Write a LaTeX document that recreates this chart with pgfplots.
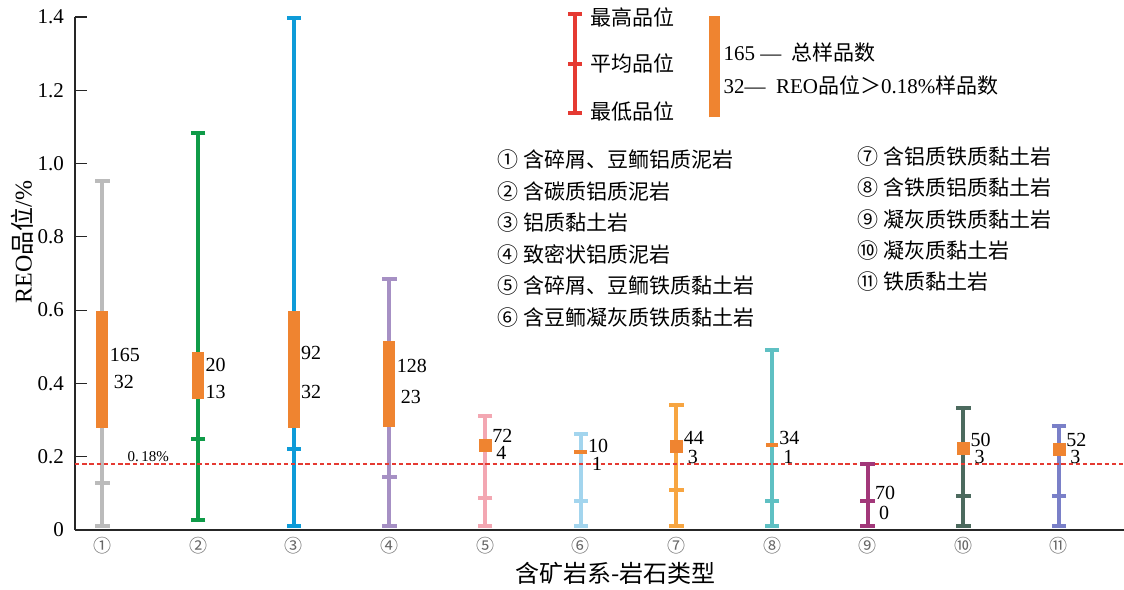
\documentclass[border=0pt]{standalone}
\usepackage{fontspec}
\setmainfont{Liberation Serif}
\newfontfamily\cjk{Noto Sans CJK SC}
\usepackage{pgfplots}
\pgfplotsset{compat=1.18}

% series colours
\definecolor{c1}{HTML}{BBBBBB}
\definecolor{c2}{HTML}{0F9B48}
\definecolor{c3}{HTML}{0E9BD8}
\definecolor{c4}{HTML}{A690C4}
\definecolor{c5}{HTML}{F3A7B2}
\definecolor{c6}{HTML}{A3D5EE}
\definecolor{c7}{HTML}{F7A541}
\definecolor{c8}{HTML}{5FC0C3}
\definecolor{c9}{HTML}{A2387A}
\definecolor{c10}{HTML}{4C6A5E}
\definecolor{c11}{HTML}{7A80C8}
\definecolor{boxorange}{HTML}{EF8430}
\definecolor{refred}{HTML}{E53A32}

\pgfplotsset{
  rng/.style={line width=2pt},
  caps/.style={only marks, mark=-, mark size=3.6pt, mark options={solid, line width=2pt}},
  obar/.style={boxorange, line width=6pt},
  osq/.style={boxorange, only marks, mark=square*, mark size=3pt},
  odash/.style={boxorange, only marks, mark=-, mark size=3.2pt, mark options={solid, line width=2pt}},
}
\tikzset{
  labA/.style={anchor=west, inner sep=0pt, xshift=3.5pt, font=\fontsize{10}{10}\selectfont},
  labB/.style={anchor=west, inner sep=0pt, xshift=5.5pt, font=\fontsize{10}{10}\selectfont},
  leg/.style={anchor=west, inner sep=0pt, font=\fontsize{10.5}{10.5}\selectfont},
}

\begin{document}
\begin{tikzpicture}
\begin{axis}[
  name=ax,
  scale only axis,
  width=524.5pt, height=256.5pt,
  xmin=0.713, xmax=11.68,
  ymin=0, ymax=1.4,
  axis x line*=bottom, axis y line*=left,
  axis line style={line width=0.8pt, black!85},
  clip=false,
  xtick pos=bottom, ytick pos=left,
  tick align=inside,
  xtick={1,2,3,4,5,6,7,8,9,10,11},
  xticklabels={①,②,③,④,⑤,⑥,⑦,⑧,⑨,⑩,⑪},
  xticklabel style={font=\cjk\fontsize{9}{9}\selectfont, text=black!60},
  major x tick style={draw=none},
  ytick={0,0.2,0.4,0.6,0.8,1.0,1.2,1.4},
  yticklabels={0,0.2,0.4,0.6,0.8,1.0,1.2,1.4},
  yticklabel style={font=\fontsize{10.5}{10.5}\selectfont, xshift=-2pt},
  major tick length=6pt,
  major y tick style={line width=0.6pt, black!85},
  xlabel={\cjk 含矿岩系-岩石类型},
  xlabel style={at={(axis description cs:0.515,-0.084)}, anchor=center, font=\fontsize{12}{12}\selectfont},
  ylabel={REO{\cjk 品位}/\%},
  ylabel style={at={(axis description cs:-0.050,0.562)}, anchor=center, font=\fontsize{12}{12}\selectfont},
]

% grade ranges: line from lowest to highest grade, caps at lowest, mean, highest
\addplot[c1, rng] coordinates {(1,0.010) (1,0.953)};
\addplot[c1, caps] coordinates {(1,0.010) (1,0.129) (1,0.953)};
\addplot[c2, rng] coordinates {(2,0.027) (2,1.083)};
\addplot[c2, caps] coordinates {(2,0.027) (2,0.247) (2,1.083)};
\addplot[c3, rng] coordinates {(3,0.010) (3,1.398)};
\addplot[c3, caps] coordinates {(3,0.010) (3,0.221) (3,1.398)};
\addplot[c4, rng] coordinates {(4,0.010) (4,0.684)};
\addplot[c4, caps] coordinates {(4,0.010) (4,0.145) (4,0.684)};
\addplot[c5, rng] coordinates {(5,0.010) (5,0.312)};
\addplot[c5, caps] coordinates {(5,0.010) (5,0.088) (5,0.312)};
\addplot[c6, rng] coordinates {(6,0.010) (6,0.262)};
\addplot[c6, caps] coordinates {(6,0.010) (6,0.080) (6,0.262)};
\addplot[c7, rng] coordinates {(7,0.010) (7,0.342)};
\addplot[c7, caps] coordinates {(7,0.010) (7,0.110) (7,0.342)};
\addplot[c8, rng] coordinates {(8,0.010) (8,0.491)};
\addplot[c8, caps] coordinates {(8,0.010) (8,0.080) (8,0.491)};
\addplot[c9, rng] coordinates {(9,0.010) (9,0.179)};
\addplot[c9, caps] coordinates {(9,0.010) (9,0.079) (9,0.179)};
\addplot[c10, rng] coordinates {(10,0.010) (10,0.334)};
\addplot[c10, caps] coordinates {(10,0.010) (10,0.092) (10,0.334)};
\addplot[c11, rng] coordinates {(11,0.010) (11,0.283)};
\addplot[c11, caps] coordinates {(11,0.010) (11,0.092) (11,0.283)};

% sample-count markers
\addplot[obar] coordinates {(1,0.279) (1,0.599)};
\addplot[obar] coordinates {(2,0.358) (2,0.487)};
\addplot[obar] coordinates {(3,0.279) (3,0.599)};
\addplot[obar] coordinates {(4,0.282) (4,0.515)};
\addplot[osq] coordinates {(5,0.231)};
\addplot[odash] coordinates {(6,0.213)};
\addplot[osq] coordinates {(7,0.228)};
\addplot[odash] coordinates {(8,0.231)};
\addplot[osq] coordinates {(10,0.223)};
\addplot[osq] coordinates {(11,0.219)};

% 0.18% cut-off grade
\addplot[refred, line width=1pt, dash pattern=on 2.2pt off 1.4pt] coordinates {(0.713,0.18) (11.68,0.18)};
\node[anchor=center, font=\fontsize{7.5}{7.5}\selectfont] at (axis cs:1.48,0.201) {0.\,18\%};

% sample counts: total / above 0.18%
\node[labA] at (axis cs:1,0.479) {165};   \node[labB] at (axis cs:1,0.404) {32};
\node[labA] at (axis cs:2,0.451) {20};    \node[labA] at (axis cs:2,0.377) {13};
\node[labA] at (axis cs:3,0.482) {92};    \node[labA] at (axis cs:3,0.377) {32};
\node[labA] at (axis cs:4,0.448) {128};   \node[labB] at (axis cs:4,0.364) {23};
\node[labA] at (axis cs:5,0.257) {72};    \node[labB] at (axis cs:5,0.209) {4};
\node[labA] at (axis cs:6,0.229) {10};    \node[labB] at (axis cs:6,0.181) {1};
\node[labA] at (axis cs:7,0.251) {44};    \node[labB] at (axis cs:7,0.200) {3};
\node[labA] at (axis cs:8,0.251) {34};    \node[labB] at (axis cs:8,0.200) {1};
\node[labA] at (axis cs:9,0.101) {70};    \node[labB] at (axis cs:9,0.046) {0};
\node[labA] at (axis cs:10,0.246) {50};   \node[labB] at (axis cs:10,0.198) {3};
\node[labA] at (axis cs:11,0.246) {52};   \node[labB] at (axis cs:11,0.198) {3};

% key: grade range symbol
\draw[refred, line width=2pt] (axis cs:5.943,1.139) -- (axis cs:5.943,1.407);
\draw[refred, line width=2pt] ([xshift=-3.6pt]axis cs:5.943,1.407) -- ([xshift=3.6pt]axis cs:5.943,1.407);
\draw[refred, line width=2pt] ([xshift=-3.6pt]axis cs:5.943,1.273) -- ([xshift=3.6pt]axis cs:5.943,1.273);
\draw[refred, line width=2pt] ([xshift=-3.6pt]axis cs:5.943,1.139) -- ([xshift=3.6pt]axis cs:5.943,1.139);
\node[leg] at (axis cs:6.10,1.399) {\cjk 最高品位};
\node[leg] at (axis cs:6.10,1.273) {\cjk 平均品位};
\node[leg] at (axis cs:6.10,1.142) {\cjk 最低品位};

% key: sample counts
\draw[boxorange, line width=5.5pt] (axis cs:7.395,1.126) -- (axis cs:7.395,1.402);
\node[leg] at (axis cs:7.49,1.303) {165 — \ {\cjk 总样品数}};
\node[leg] at (axis cs:7.49,1.213) {32— \ REO{\cjk 品位＞}0.18\%{\cjk 样品数}};

% key: rock types
\node[leg] at (axis cs:5.127,1.011) {\cjk ① 含碎屑、豆鲕铝质泥岩};
\node[leg] at (axis cs:5.127,0.925) {\cjk ② 含碳质铝质泥岩};
\node[leg] at (axis cs:5.127,0.838) {\cjk ③ 铝质黏土岩};
\node[leg] at (axis cs:5.127,0.752) {\cjk ④ 致密状铝质泥岩};
\node[leg] at (axis cs:5.127,0.666) {\cjk ⑤ 含碎屑、豆鲕铁质黏土岩};
\node[leg] at (axis cs:5.127,0.579) {\cjk ⑥ 含豆鲕凝灰质铁质黏土岩};
\node[leg] at (axis cs:8.889,1.019) {\cjk ⑦ 含铝质铁质黏土岩};
\node[leg] at (axis cs:8.889,0.934) {\cjk ⑧ 含铁质铝质黏土岩};
\node[leg] at (axis cs:8.889,0.848) {\cjk ⑨ 凝灰质铁质黏土岩};
\node[leg] at (axis cs:8.889,0.763) {\cjk ⑩ 凝灰质黏土岩};
\node[leg] at (axis cs:8.889,0.678) {\cjk ⑪ 铁质黏土岩};
\end{axis}
\path (ax.south west) ++(-37.5pt,-29.5pt) coordinate (bl);
\path (ax.north east) ++(0,8.5pt) coordinate (tr);
\pgfresetboundingbox
\useasboundingbox (bl) rectangle (tr);
\end{tikzpicture}
\end{document}
